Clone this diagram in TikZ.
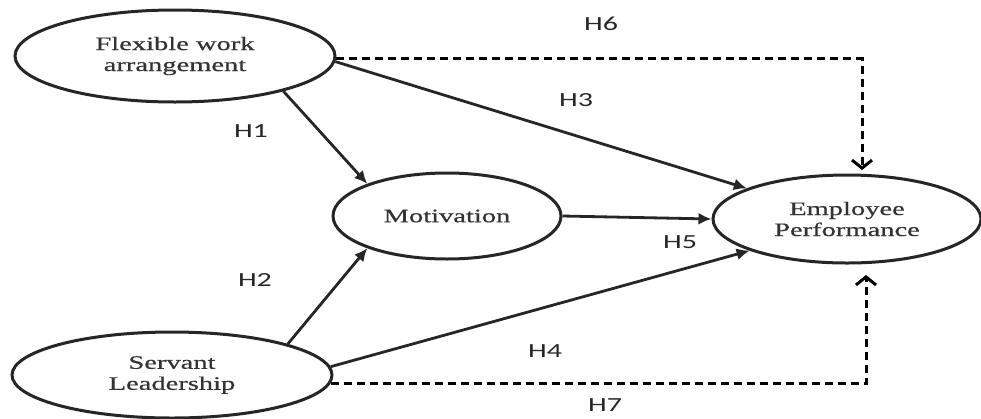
\documentclass[tikz,border=0pt]{standalone}
\usepackage{fontspec}
\setmainfont{Liberation Serif}[FakeStretch=1.5,FakeBold=0.6]
\newfontfamily\labfont{Carlito}[FakeStretch=1.5]
\usetikzlibrary{arrows.meta,shapes.geometric}
\begin{document}
\begin{tikzpicture}[x=1pt,y=-1pt,
  lat/.style={ellipse,draw=black!85,line width=3pt,inner sep=0pt,align=center,
    font=\fontsize{19}{21}\selectfont,text=black!80},
  arr/.style={line width=2.8pt,draw=black!85,-{Latex[length=13pt,width=12pt]}},
  darr/.style={line width=3pt,draw=black,dash pattern=on 8pt off 5pt,
    -{Straight Barb[length=8pt,width=20pt]}},
  hlab/.style={font=\labfont\fontsize{20}{20}\selectfont,text=black!85}]
\useasboundingbox (0,0) rectangle (981,418);
\node[lat,minimum width=320pt,minimum height=92pt] (flex) at (175,56) {Flexible work\\arrangement};
\node[lat,minimum width=320pt,minimum height=86pt] (serv) at (172,375) {Servant\\Leadership};
\node[lat,minimum width=228pt,minimum height=86pt] (mot) at (447,216) {Motivation};
\node[lat,minimum width=268pt,minimum height=88pt] (emp) at (847,219) {Employee\\Performance};
\coordinate (t6) at (862,170);
\coordinate (t7) at (866,275);
\draw[arr] (flex.-18) -- (mot.158);
\draw[arr] (flex.-2) -- (emp.163);
\draw[arr] (mot.east) -- (emp.west);
\draw[arr] (serv.15) -- (mot.202);
\draw[arr] (serv.3) -- (emp.198);
\draw[darr] (flex.-1) -| (t6);
\draw[darr] (serv.-3) -| (t7);
\node[hlab] (h6) at (601,24) {H6};
\node[hlab] (h3) at (576,100) {H3};
\node[hlab] (h1) at (251,131) {H1};
\node[hlab] (h5) at (680,242) {H5};
\node[hlab] (h2) at (255,280) {H2};
\node[hlab] (h4) at (545,351) {H4};
\node[hlab] (h7) at (605,405) {H7};
\end{tikzpicture}
\end{document}
